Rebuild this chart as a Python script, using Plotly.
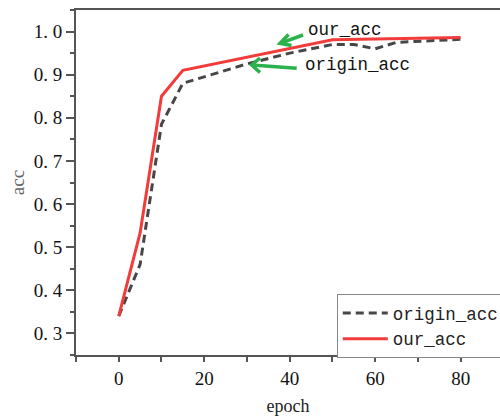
import plotly.graph_objects as go

# data
origin_epoch = [0, 5, 10, 15, 20, 30, 40, 50, 55, 60, 65, 80]
origin_acc = [0.34, 0.46, 0.785, 0.88, 0.895, 0.925, 0.95, 0.97, 0.97, 0.96, 0.975, 0.982]
our_epoch = [0, 5, 10, 15, 50, 80]
our_acc = [0.34, 0.533, 0.85, 0.91, 0.981, 0.986]

y_tickvals = [0.3, 0.4, 0.5, 0.6, 0.7, 0.8, 0.9, 1.0]
y_ticktext = ["0. 3", "0. 4", "0. 5", "0. 6", "0. 7", "0. 8", "0. 9", "1. 0"]
x_tickvals = [0, 20, 40, 60, 80]

serif = "Liberation Serif"
mono = "Liberation Mono"

L, R, T, B = 76, 0, 10, 64
W, H = 500, 419
pw, ph = W - L - R, H - T - B


def pp(px, py):
    return (px - L) / pw, (H - B - py) / ph


def path(points):
    s = ""
    for i, (px, py) in enumerate(points):
        x, y = pp(px, py)
        s += ("M" if i == 0 else "L") + f"{x:.4f},{y:.4f} "
    return s


fig = go.Figure()
fig.add_trace(go.Scatter(x=origin_epoch, y=origin_acc, mode="lines", name="origin_acc",
                         line=dict(color="#474747", width=3, dash="8px,5px")))
fig.add_trace(go.Scatter(x=our_epoch, y=our_acc, mode="lines", name="our_acc",
                         line=dict(color="#f23c3c", width=3)))

green = "#2bb24c"
# green hand-drawn style arrows (pixel positions)
arrows = [
    [(303, 35), (280, 43.3)],
    [(296.7, 68.3), (251.7, 65)],
]
heads = [
    [(288.5, 34.5), (280, 43.3), (291.5, 45.5)],
    [(260, 58), (251.7, 65), (260, 72.5)],
]
for a in arrows + heads:
    fig.add_shape(type="path", xref="paper", yref="paper", path=path(a),
                  line=dict(color=green, width=3.5))

# labels
fig.add_annotation(x=43.9, y=1.0036, xref="x", yref="y", text="our_acc", showarrow=False,
                   xanchor="left", yanchor="middle", font=dict(family=mono, size=17.5, color="#111"))
fig.add_annotation(x=43.1, y=0.9225, xref="x", yref="y", text="origin_acc", showarrow=False,
                   xanchor="left", yanchor="middle", font=dict(family=mono, size=17.5, color="#111"))

fig.update_layout(
    width=W, height=H,
    margin=dict(l=L, r=R, t=T, b=B, autoexpand=False),
    paper_bgcolor="white", plot_bgcolor="white",
    showlegend=True,
    legend=dict(x=0.615, y=0.1768, xanchor="left", yanchor="top",
                bordercolor="#888", borderwidth=1, bgcolor="white",
                font=dict(family=mono, size=17.5, color="#222"),
                tracegroupgap=0, itemwidth=45),
    xaxis=dict(range=[-10, 89.2], tickvals=x_tickvals, showgrid=False, zeroline=False,
               showline=True, linecolor="#555", linewidth=2, mirror=True,
               ticks="outside", ticklen=5, tickwidth=1.5, tickcolor="#555",
               minor=dict(dtick=10, tick0=0, ticks="outside", ticklen=5, tickwidth=1.5, tickcolor="#555"),
               tickfont=dict(family=serif, size=19, color="#111"),
               title=dict(text="epoch", font=dict(family=serif, size=18, color="#222"), standoff=12)),
    yaxis=dict(range=[0.25, 1.05], tickvals=y_tickvals, ticktext=y_ticktext, showgrid=False,
               zeroline=False, showline=True, linecolor="#555", linewidth=2, mirror=False,
               ticks="outside", ticklen=8, tickwidth=1.5, tickcolor="#555",
               minor=dict(dtick=0.05, tick0=0.25, ticks="outside", ticklen=4, tickwidth=1.5, tickcolor="#555"),
               tickfont=dict(family=serif, size=19, color="#111"),
               title=dict(text="acc", font=dict(family=serif, size=19, color="#666"), standoff=4)),
)

fig.write_html("out.html")
